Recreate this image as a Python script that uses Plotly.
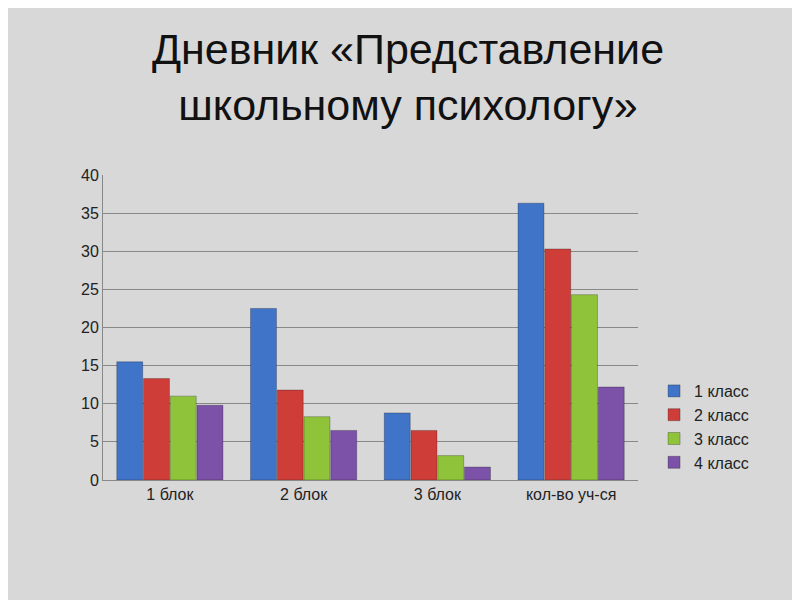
import plotly.graph_objects as go

categories = ["1 блок", "2 блок", "3 блок", "кол-во уч-ся"]
series_names = ["1 класс", "2 класс", "3 класс", "4 класс"]
s1 = [15.5, 22.5, 8.8, 36.3]
s2 = [13.3, 11.8, 6.5, 30.3]
s3 = [11.0, 8.3, 3.2, 24.3]
s4 = [9.8, 6.5, 1.7, 12.2]
colors = ["#3f74c8", "#cf3d38", "#8fc43a", "#7b52a8"]

fig = go.Figure()
for name, vals, c in zip(series_names, [s1, s2, s3, s4], colors):
    fig.add_trace(go.Bar(x=categories, y=vals, name=name,
                         marker=dict(color=c, line=dict(color="rgba(0,0,0,0.25)", width=1))))

fig.update_layout(
    width=800, height=600,
    paper_bgcolor="#d8d8d8", plot_bgcolor="rgba(0,0,0,0)",
    font=dict(family="Liberation Sans, Arial", color="#222"),
    title=dict(text="Дневник «Представление<br>школьному психологу»",
               x=0.5, xanchor="center", y=0.907, yanchor="top",
               font=dict(size=43, color="#111")),
    barmode="group", bargap=0.2, bargroupgap=0.03,
    margin=dict(l=95, r=170, t=167, b=128),
    xaxis=dict(showline=True, linecolor="#888", tickfont=dict(size=16), ticks=""),
    yaxis=dict(range=[0, 40], dtick=5, showgrid=True, gridcolor="#888", gridwidth=1,
               showline=True, linecolor="#888", tickfont=dict(size=16), zeroline=False),
    legend=dict(x=1.03, y=0.0, xanchor="left", yanchor="bottom",
                font=dict(size=16), bgcolor="rgba(0,0,0,0)", tracegroupgap=10),
)
fig.write_html("out.html")
